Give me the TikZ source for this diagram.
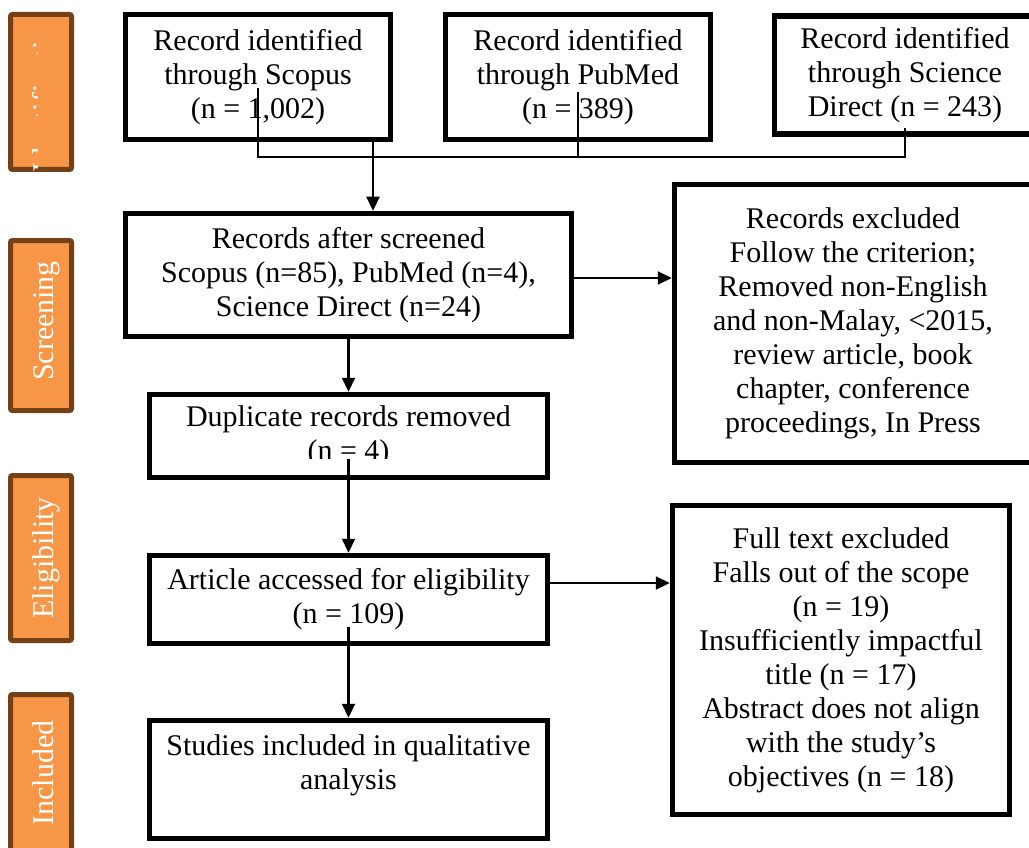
\documentclass[tikz,border=0pt]{standalone}
\usepackage{fontspec}
\setmainfont{Liberation Serif}
\usepackage{tikz}
\usetikzlibrary{arrows.meta}
\definecolor{sideorange}{HTML}{F79646}
\definecolor{sidebrown}{HTML}{744016}
\newcommand\flowfont{\fontsize{30pt}{34pt}\selectfont}

\begin{document}
\begin{tikzpicture}[x=1pt, y=-1pt,
	box/.style={rectangle, draw, line width=5.5pt, align=center, font=\flowfont, inner sep=0pt},
	side/.style={rectangle, draw=sidebrown, fill=sideorange, line width=5pt, rounded corners=2pt, minimum width=61pt},
	sidetext/.style={rotate=90, text=white, font=\flowfont, text height=21pt, text depth=7pt, inner sep=0pt},
	link/.style={line width=2.2pt},
	flow/.style={link, -{Triangle[length=14pt, width=13pt]}}]
	\useasboundingbox (0,0) rectangle (1029,848);
	\clip (0,0) rectangle (1029,848);

	% stage labels
	\node[side, minimum height=155pt] (sid) at (41,92) {};
	\node[side, minimum height=170pt] (sscr) at (41,325.5) {};
	\node[side, minimum height=165pt] (selig) at (41,558) {};
	\node[side, minimum height=157pt] (sinc) at (41,773) {};
	\begin{scope}
		\clip (29,12) rectangle (37,172);
		\node[sidetext] (lid) at (46,92) {Identification};
	\end{scope}
	\node[sidetext] (lscr) at (46,321) {Screening};
	\node[sidetext] (lelig) at (46,558) {Eligibility};
	\node[sidetext] (linc) at (46,773) {Included};

	% boxes
	\node[box, minimum width=265pt, minimum height=125pt] (scopus) at (258,77) {Record identified\\through Scopus\\(n = 1,002)};
	\node[box, minimum width=265pt, minimum height=125pt] (pubmed) at (578,77) {Record identified\\through PubMed\\(n = 389)};
	\node[box, minimum width=261pt, minimum height=118pt] (scidir) at (905,75) {Record identified\\through Science\\Direct (n = 243)};
	\node[box, minimum width=446pt, minimum height=123pt] (screened) at (348.5,275) {Records after screened\\Scopus (n=85), PubMed (n=4),\\Science Direct (n=24)};
	\node[box, minimum width=357pt, minimum height=278pt] (excluded) at (853,323.5) {Records excluded\\Follow the criterion;\\Removed non-English\\and non-Malay, <2015,\\review article, book\\chapter, conference\\proceedings, In Press};
	\node[box, minimum width=398pt, minimum height=83pt] (dup) at (348.5,436) {Duplicate records removed\\(n = 4)};
	\fill[white] (152,459) rectangle (545,475);
	\node[box, minimum width=398pt, minimum height=88pt] (article) at (348.5,599.5) {Article accessed for eligibility\\(n = 109)};
	\node[box, minimum width=398pt, minimum height=118pt] (studies) at (348.5,779.5) {Studies included in qualitative\\analysis\\\mbox{}};
	\node[box, minimum width=337pt, minimum height=309pt] (fulltext) at (841,660) {Full text excluded\\Falls out of the scope\\(n = 19)\\Insufficiently impactful\\title (n = 17)\\Abstract does not align\\with the study’s\\objectives (n = 18)};

	% connectors
	\coordinate (scopusin) at (258,88);
	\coordinate (pubmedin) at (578,92);
	\coordinate (scidirin) at (905,128);
	\coordinate (merge) at (905,157);
	\draw[link] (scopusin) |- (merge) -- (scidirin);
	\draw[link] (pubmedin) -- (pubmedin |- merge);
	\coordinate (drop) at (373,142);
	\draw[flow] (scopus.south -| drop) -- (screened.north -| drop);
	\draw[flow] ([yshift=-3pt]screened.east) -- ([yshift=-3pt]screened.east -| excluded.west);
	\draw[flow] (screened.south) -- (dup.north);
	\coordinate (dupin) at (348.5,459);
	\draw[flow] (dupin) -- (article.north);
	\draw[flow] ([yshift=16.5pt]article.east) -- ([yshift=16.5pt]article.east -| fulltext.west);
	\coordinate (articlein) at (348.5,627);
	\draw[flow] (articlein) -- (studies.north);
\end{tikzpicture}
\end{document}
